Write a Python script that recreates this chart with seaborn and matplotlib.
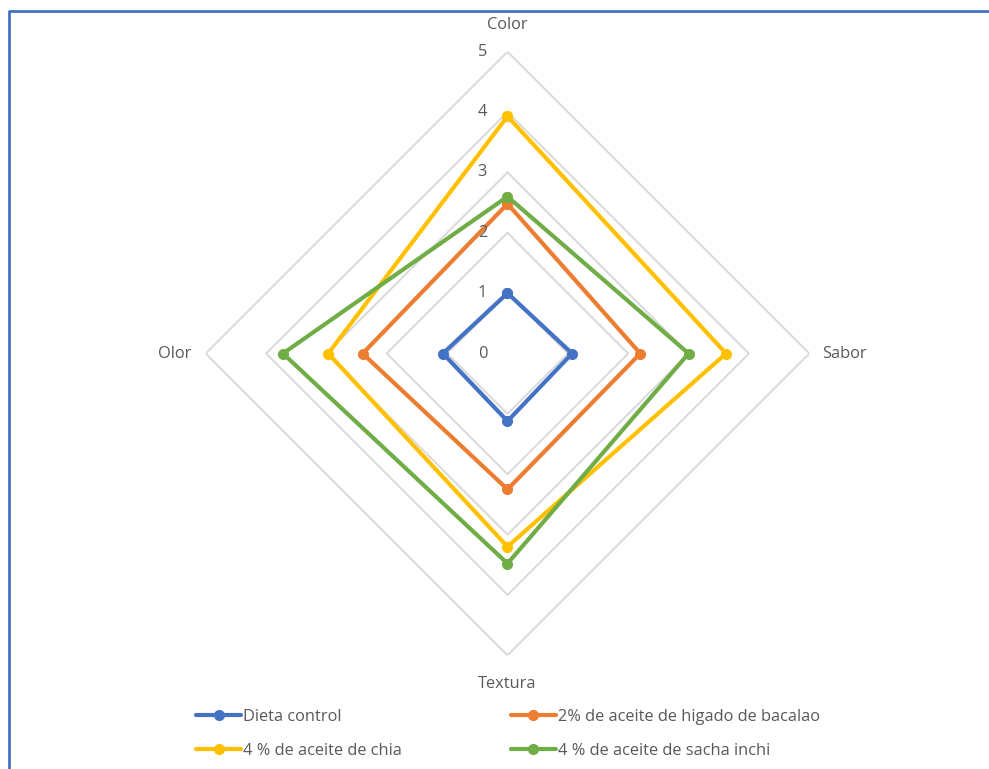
import numpy as np
import pandas as pd
import matplotlib
matplotlib.use("Agg")
import matplotlib.pyplot as plt
import matplotlib.transforms as mtransforms
from matplotlib.lines import Line2D
import seaborn as sns

# ---- data ----
categories = ["Color", "Sabor", "Textura", "Olor"]
dieta_control = [1.0, 1.07, 1.12, 1.07]
higado_bacalao = [2.48, 2.2, 2.25, 2.4]
aceite_chia = [3.93, 3.62, 3.2, 2.97]
sacha_inchi = [2.6, 3.0, 3.48, 3.72]
series_names = ["Dieta control", "2% de aceite de higado de bacalao",
                "4 % de aceite de chia", "4 % de aceite de sacha inchi"]
series_values = [dieta_control, higado_bacalao, aceite_chia, sacha_inchi]
scale_ticks = [0, 1, 2, 3, 4, 5]

colors = {series_names[0]: "#4472C4", series_names[1]: "#ED7D31",
          series_names[2]: "#FFC000", series_names[3]: "#70AD47"}

# angles (clockwise from top)
angles = np.deg2rad(np.arange(len(categories)) * 360.0 / len(categories))
angles_closed = np.append(angles, 2 * np.pi)

rows = []
for name, vals in zip(series_names, series_values):
    closed = list(vals) + [vals[0]]
    for a, v in zip(angles_closed, closed):
        rows.append({"serie": name, "theta": a, "valor": v})
df = pd.DataFrame(rows)

sns.set_theme(style="white")
plt.rcParams["font.family"] = ["Open Sans", "DejaVu Sans"]
text_color = "#595959"

W, H = 989, 769
fig = plt.figure(figsize=(W / 100, H / 100), dpi=100)
cx, cy, R = 507.5, 769 - 353.5, 301.8
ax = fig.add_axes([(cx - R) / W, (cy - R) / H, 2 * R / W, 2 * R / H],
                  projection="polar")
ax.set_theta_zero_location("N")
ax.set_theta_direction(-1)
ax.patch.set_alpha(0)

# polygon gridlines
for r in scale_ticks[1:]:
    ax.plot(angles_closed, [r] * len(angles_closed), color="#D9D9D9",
            lw=1.4, zorder=1)

# draw in Excel series order so later series sit on top
for name in series_names:
    sub = df[df["serie"] == name]
    sns.lineplot(data=sub, x="theta", y="valor", color=colors[name],
                 sort=False, marker="o", markersize=8, markeredgewidth=0,
                 linewidth=3.0, ax=ax, zorder=3, label=name)

ax.set_xlim(0, 2 * np.pi)
ax.set_ylim(0, 5)
ax.grid(False)
ax.spines["polar"].set_visible(False)
ax.set_xticks([])
ax.set_yticks([])
ax.set_xlabel("")
ax.set_ylabel("")

lab_fs = 11.8

# radial scale labels
off = mtransforms.ScaledTranslation(-25 / 100, 0, fig.dpi_scale_trans)
for t in scale_ticks:
    ax.text(0, t, str(t), transform=ax.transData + off, ha="center",
            va="center", fontsize=lab_fs, color=text_color)

# category labels
offsets = [(0, 27, "center", "center"), (13, 0, "left", "center"),
           (0, -29, "center", "center"), (-14, 0, "right", "center")]
for a, lab, (dx, dy, ha, va) in zip(angles, categories, offsets):
    tr = ax.transData + mtransforms.ScaledTranslation(dx / 100, dy / 100,
                                                       fig.dpi_scale_trans)
    ax.text(a, 5, lab, transform=tr, ha=ha, va=va, fontsize=lab_fs,
            color=text_color)

# legend
handles, labels = ax.get_legend_handles_labels()
if ax.get_legend() is not None:
    ax.get_legend().remove()
hmap = dict(zip(labels, handles))
order = [series_names[0], series_names[2], series_names[1], series_names[3]]
fs = 11.8
fpx = fs * 100 / 72
leg = fig.legend([hmap[n] for n in order], order, ncol=2, frameon=False,
                 loc="upper left", bbox_to_anchor=(196 / W, 1 - 709 / H),
                 fontsize=fs, handlelength=45 / fpx, handletextpad=2 / fpx,
                 columnspacing=6.65, labelspacing=1.08, borderaxespad=0,
                 borderpad=0)
for txt in leg.get_texts():
    txt.set_color(text_color)

# chart border (left and top visible)
bx, by = 9 / W, 1 - 11 / H
fig.add_artist(Line2D([bx, bx, 1.01], [-0.01, by, by], transform=fig.transFigure,
                      color="#4472C4", lw=2.0))

fig.savefig("out.png", dpi=100)
